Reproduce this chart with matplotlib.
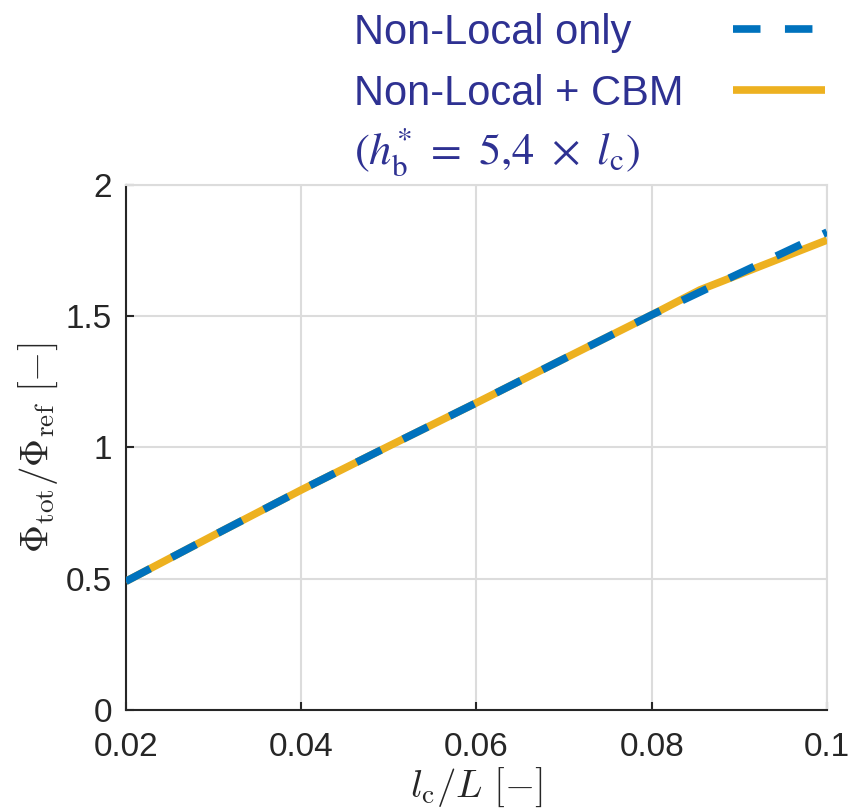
import numpy as np
import matplotlib
matplotlib.use('Agg')
import matplotlib.pyplot as plt
from matplotlib.lines import Line2D
from matplotlib.offsetbox import TextArea
from matplotlib.transforms import Bbox

# data
x_nl = [0.02, 0.03, 0.04, 0.05, 0.06, 0.07, 0.08, 0.09, 0.1]
y_nl = [0.49, 0.665, 0.838, 1.005, 1.17, 1.338, 1.505, 1.663, 1.82]

x_cbm = [0.02, 0.03, 0.04, 0.05, 0.06, 0.07, 0.08, 0.0855, 0.1]
y_cbm = [0.49, 0.665, 0.838, 1.005, 1.17, 1.338, 1.505, 1.60, 1.79]

xticks = [0.02, 0.04, 0.06, 0.08, 0.1]
xticklabels = ['0.02', '0.04', '0.06', '0.08', '0.1']
yticks = [0, 0.5, 1, 1.5, 2]
yticklabels = ['0', '0.5', '1', '1.5', '2']

blue = '#0072BD'
yellow = '#EDB120'
txt = '#2E3192'
dark = '#262626'
grid_c = '#DCDCDC'

plt.rcParams['font.family'] = ['Liberation Sans', 'DejaVu Sans']
plt.rcParams['mathtext.fontset'] = 'cm'

fig = plt.figure(figsize=(8.5, 8.11), dpi=100)
ax = fig.add_axes([0.148, 0.1245, 0.825, 0.6475])

ax.plot(x_cbm, y_cbm, color=yellow, lw=5.5, solid_capstyle='butt', zorder=3)
ax.plot(x_nl, y_nl, color=blue, lw=5.5, dashes=(3.6, 3.2), dash_capstyle='butt', zorder=4)

ax.set_xlim(0.02, 0.1)
ax.set_ylim(0, 2)
ax.set_xticks(xticks)
ax.set_xticklabels(xticklabels)
ax.set_yticks(yticks)
ax.set_yticklabels(yticklabels)
ax.grid(True, color=grid_c, lw=1.5)
ax.set_axisbelow(True)

for s in ['left', 'bottom']:
    ax.spines[s].set_color(dark)
    ax.spines[s].set_linewidth(1.5)
for s in ['top', 'right']:
    ax.spines[s].set_color(grid_c)
    ax.spines[s].set_linewidth(1.5)

ax.tick_params(direction='in', length=6, width=1.5, color=dark,
               labelsize=24, labelcolor=dark)
ax.tick_params(axis='x', pad=16)
ax.tick_params(axis='y', pad=10)

ax.set_xlabel(r'$l_\mathrm{c}/L\ [-]$', fontsize=28, color=dark, labelpad=2)
ax.set_ylabel(r'$\Phi_\mathrm{tot}/\Phi_\mathrm{ref}\ [-]$', fontsize=28, color=dark, labelpad=4)

h1 = Line2D([], [], color=blue, lw=5.5, dashes=(3.6, 3.2), dash_capstyle='butt')
h2 = Line2D([], [], color=yellow, lw=5.5, solid_capstyle='butt')
h3 = Line2D([], [], color='none', lw=0)
labels = ['Non-Local only',
          'Non-Local + CBM',
          r'$(h_\mathrm{b}^{*}\ =\ 5{,}4\ \times\ l_\mathrm{c})$']
leg = ax.legend([h1, h2, h3], labels, loc='lower right', bbox_to_anchor=(1.0, 1.01),
                frameon=False, markerfirst=False, fontsize=30, labelcolor=txt,
                handlelength=2.2, handletextpad=1.2, labelspacing=0.5,
                borderaxespad=0.0, borderpad=0.05)
leg.get_texts()[2].set_math_fontfamily('stix')
leg.get_texts()[2].set_fontsize(32)

# give all legend labels the same width so the text is left aligned
# while the line samples stay on the right, like in the reference
areas = []


def collect(box):
    for c in box.get_children():
        if isinstance(c, TextArea):
            areas.append(c)
        elif hasattr(c, 'get_children'):
            collect(c)


collect(leg._legend_handle_box)
origs = [a.get_bbox for a in areas]


def fixed_bbox(orig, trim):
    def gb(renderer):
        b = orig(renderer)
        w = max(o(renderer).width for o in origs)
        return Bbox.from_bounds(b.x0, b.y0, w, b.height - trim)
    return gb


for i, (a, o) in enumerate(zip(areas, origs)):
    a.get_bbox = fixed_bbox(o, 11 if i == 2 else 0)

fig.savefig('out.png', dpi=100)
